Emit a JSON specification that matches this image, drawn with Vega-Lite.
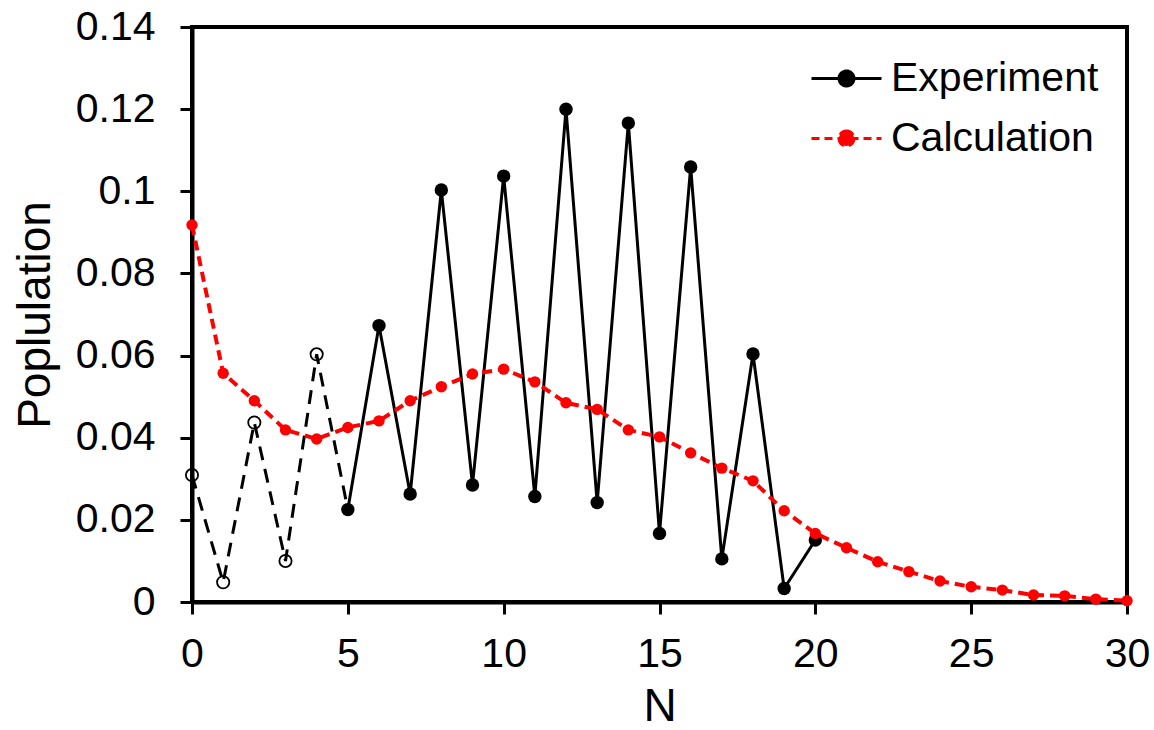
{
  "$schema": "https://vega.github.io/schema/vega-lite/v6.json",
  "width": 935,
  "height": 575,
  "autosize": "none",
  "padding": {"left": 192, "top": 27, "right": 27, "bottom": 128},
  "background": "white",
  "config": {
    "font": "Liberation Sans",
    "view": {"stroke": "black", "strokeWidth": 4},
    "axis": {
      "grid": false,
      "domainColor": "black",
      "domainWidth": 4,
      "tickColor": "black",
      "tickWidth": 3,
      "tickSize": 12,
      "labelColor": "black",
      "labelFontSize": 41,
      "titleColor": "black",
      "titleFontSize": 46,
      "titleFontWeight": "normal"
    }
  },
  "data": {
    "values": [
      {"N": 0, "Population": 0.0309, "series": "Experiment"},
      {"N": 1, "Population": 0.0048, "series": "Experiment"},
      {"N": 2, "Population": 0.0437, "series": "Experiment"},
      {"N": 3, "Population": 0.0100, "series": "Experiment"},
      {"N": 4, "Population": 0.0603, "series": "Experiment"},
      {"N": 5, "Population": 0.0225, "series": "Experiment"},
      {"N": 6, "Population": 0.0673, "series": "Experiment"},
      {"N": 7, "Population": 0.0263, "series": "Experiment"},
      {"N": 8, "Population": 0.1003, "series": "Experiment"},
      {"N": 9, "Population": 0.0285, "series": "Experiment"},
      {"N": 10, "Population": 0.1037, "series": "Experiment"},
      {"N": 11, "Population": 0.0257, "series": "Experiment"},
      {"N": 12, "Population": 0.1200, "series": "Experiment"},
      {"N": 13, "Population": 0.0242, "series": "Experiment"},
      {"N": 14, "Population": 0.1166, "series": "Experiment"},
      {"N": 15, "Population": 0.0167, "series": "Experiment"},
      {"N": 16, "Population": 0.1059, "series": "Experiment"},
      {"N": 17, "Population": 0.0105, "series": "Experiment"},
      {"N": 18, "Population": 0.0604, "series": "Experiment"},
      {"N": 19, "Population": 0.0033, "series": "Experiment"},
      {"N": 20, "Population": 0.0151, "series": "Experiment"},
      {"N": 0, "Population": 0.0918, "series": "Calculation"},
      {"N": 1, "Population": 0.0557, "series": "Calculation"},
      {"N": 2, "Population": 0.0490, "series": "Calculation"},
      {"N": 3, "Population": 0.0419, "series": "Calculation"},
      {"N": 4, "Population": 0.0397, "series": "Calculation"},
      {"N": 5, "Population": 0.0425, "series": "Calculation"},
      {"N": 6, "Population": 0.0441, "series": "Calculation"},
      {"N": 7, "Population": 0.0490, "series": "Calculation"},
      {"N": 8, "Population": 0.0524, "series": "Calculation"},
      {"N": 9, "Population": 0.0555, "series": "Calculation"},
      {"N": 10, "Population": 0.0567, "series": "Calculation"},
      {"N": 11, "Population": 0.0536, "series": "Calculation"},
      {"N": 12, "Population": 0.0485, "series": "Calculation"},
      {"N": 13, "Population": 0.0469, "series": "Calculation"},
      {"N": 14, "Population": 0.0419, "series": "Calculation"},
      {"N": 15, "Population": 0.0402, "series": "Calculation"},
      {"N": 16, "Population": 0.0363, "series": "Calculation"},
      {"N": 17, "Population": 0.0326, "series": "Calculation"},
      {"N": 18, "Population": 0.0295, "series": "Calculation"},
      {"N": 19, "Population": 0.0222, "series": "Calculation"},
      {"N": 20, "Population": 0.0167, "series": "Calculation"},
      {"N": 21, "Population": 0.0132, "series": "Calculation"},
      {"N": 22, "Population": 0.0098, "series": "Calculation"},
      {"N": 23, "Population": 0.0074, "series": "Calculation"},
      {"N": 24, "Population": 0.0051, "series": "Calculation"},
      {"N": 25, "Population": 0.0037, "series": "Calculation"},
      {"N": 26, "Population": 0.0029, "series": "Calculation"},
      {"N": 27, "Population": 0.0017, "series": "Calculation"},
      {"N": 28, "Population": 0.0015, "series": "Calculation"},
      {"N": 29, "Population": 0.0007, "series": "Calculation"},
      {"N": 30, "Population": 0.0003, "series": "Calculation"}
    ]
  },
  "encoding": {
    "x": {
      "field": "N",
      "type": "quantitative",
      "scale": {"domain": [0, 30], "nice": false, "zero": false},
      "axis": {"values": [0, 5, 10, 15, 20, 25, 30], "title": "N", "labelPadding": 20, "titlePadding": 10, "labelFlush": false}
    },
    "y": {
      "field": "Population",
      "type": "quantitative",
      "scale": {"domain": [0, 0.14], "nice": false},
      "axis": {"values": [0, 0.02, 0.04, 0.06, 0.08, 0.1, 0.12, 0.14], "format": "~g", "title": "Poplulation", "labelPadding": 25, "titlePadding": 16}
    }
  },
  "layer": [
    {
      "transform": [{"filter": "datum.series === 'Experiment' && datum.N <= 5"}],
      "mark": {"type": "line", "color": "black", "strokeWidth": 3, "strokeDash": [14, 9]}
    },
    {
      "transform": [{"filter": "datum.series === 'Experiment' && datum.N <= 4"}],
      "mark": {"type": "point", "filled": false, "color": "black", "size": 150, "strokeWidth": 1.8, "opacity": 1}
    },
    {
      "transform": [{"filter": "datum.series === 'Experiment' && datum.N >= 5"}],
      "mark": {"type": "line", "strokeWidth": 3},
      "encoding": {
        "color": {
          "field": "series",
          "type": "nominal",
          "scale": {"domain": ["Experiment", "Calculation"], "range": ["black", "red"]},
          "legend": {
            "title": null,
            "orient": "none",
            "legendX": 628,
            "legendY": 25,
            "symbolType": "M-1.4,0H1.4M0,-0.3A0.3,0.3 0 1,1 0,0.3A0.3,0.3 0 1,1 0,-0.3Z",
            "symbolSize": 2500,
            "symbolStrokeWidth": 3,
            "labelFontSize": 41,
            "labelColor": "black",
            "labelLimit": 0,
            "labelOffset": 18,
            "rowPadding": 13,
            "encode": {
              "symbols": {
                "update": {
                  "fill": {"signal": "datum.value === 'Experiment' ? 'black' : 'red'"},
                  "strokeDash": {"signal": "datum.value === 'Experiment' ? [1, 0] : [8, 5]"},
                  "opacity": {"value": 1}
                }
              }
            }
          }
        }
      }
    },
    {
      "transform": [{"filter": "datum.series === 'Experiment' && datum.N >= 5"}],
      "mark": {"type": "point", "filled": true, "color": "black", "size": 180, "opacity": 1}
    },
    {
      "transform": [{"filter": "datum.series === 'Calculation'"}],
      "mark": {"type": "line", "strokeWidth": 4, "strokeDash": [10, 6]},
      "encoding": {
        "color": {"field": "series", "type": "nominal"}
      }
    },
    {
      "transform": [{"filter": "datum.series === 'Calculation'"}],
      "mark": {"type": "point", "filled": true, "color": "red", "size": 130, "opacity": 1}
    }
  ]
}
